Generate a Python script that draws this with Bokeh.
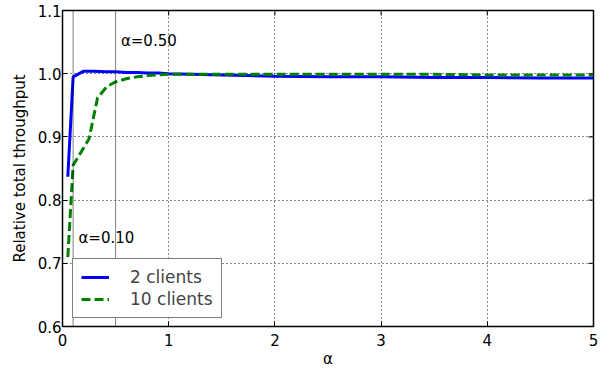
import math
from bokeh.plotting import figure
from bokeh.models import Legend, LegendItem, Span, FixedTicker, Range1d, ColumnDataSource
from bokeh.core.properties import value
from bokeh.embed import file_html
from bokeh.resources import INLINE

# ---- data ----
x_2 = [0.05, 0.1, 0.2, 0.3, 0.4, 0.5, 0.6, 0.7, 0.8, 0.9, 1.0, 1.5, 2.0, 2.5, 3.0, 3.5, 4.0, 4.5, 5.0]
y_2 = [0.837, 0.995, 1.004, 1.004, 1.003, 1.003, 1.002, 1.002, 1.001, 1.001, 1.000, 0.998, 0.996, 0.995, 0.995, 0.994, 0.994, 0.993, 0.993]
x_10 = [0.05, 0.1, 0.25, 0.33, 0.42, 0.5, 0.6, 0.7, 0.8, 0.9, 1.0, 1.5, 2.0, 2.5, 3.0, 3.5, 4.0, 4.5, 5.0]
y_10 = [0.71, 0.855, 0.897, 0.962, 0.980, 0.987, 0.992, 0.995, 0.997, 0.998, 0.999, 0.999, 0.999, 0.999, 0.999, 0.999, 0.998, 0.998, 0.998]
series_names = ["2 clients", "10 clients"]
markers = [0.1, 0.5]
ann_x = [0.55, 0.15]
ann_y = [1.052, 0.74]
ann_text = ["α=0.50", "α=0.10"]
x_ticks = [0, 1, 2, 3, 4, 5]
x_tick_labels = ["0", "1", "2", "3", "4", "5"]
y_ticks = [0.6, 0.7, 0.8, 0.9, 1.0, 1.1]
y_tick_labels = ["0.6", "0.7", "0.8", "0.9", "1.0", "1.1"]
x_lo, x_hi = 0, 5
y_lo, y_hi = 0.6, 1.1

FONT = "DejaVu Sans"

p = figure(frame_width=531, frame_height=316, output_backend="svg", toolbar_location=None,
           x_range=Range1d(x_lo, x_hi), y_range=Range1d(y_lo, y_hi),
           min_border_left=62, min_border_right=6, min_border_top=10, min_border_bottom=0)
p.outline_line_color = "black"
p.outline_line_width = 1.5
p.background_fill_color = "white"
p.border_fill_color = "white"

for ax, ticks, labels in ((p.xaxis[0], x_ticks, x_tick_labels), (p.yaxis[0], y_ticks, y_tick_labels)):
    ax.ticker = FixedTicker(ticks=ticks)
    ax.major_label_overrides = {t: l for t, l in zip(ticks, labels)}
    ax.major_tick_in = 5
    ax.major_tick_out = 0
    ax.minor_tick_line_color = None
    ax.axis_line_color = "black"
    ax.major_tick_line_color = "black"
    ax.major_label_text_font = FONT
    ax.major_label_text_font_size = "15px"
    ax.major_label_text_color = "black"
    ax.axis_label_text_font = FONT
    ax.axis_label_text_font_size = "15px"
    ax.axis_label_text_font_style = "normal"
    ax.axis_label_text_color = "black"

p.xaxis.axis_label = "α"
p.yaxis.axis_label = "Relative total throughput"
p.xaxis.major_label_standoff = 7
p.xaxis.axis_label_standoff = 1
p.yaxis.major_label_standoff = 1
p.yaxis.axis_label_standoff = 6

# inward ticks on the top and right borders
p.ray(x=x_ticks, y=[y_hi] * len(x_ticks), length=5, length_units="screen",
      angle=-math.pi / 2, line_color="black", line_width=1)
p.ray(x=[x_hi] * len(y_ticks), y=y_ticks, length=5, length_units="screen",
      angle=math.pi, line_color="black", line_width=1)

for g in (p.xgrid[0], p.ygrid[0]):
    g.grid_line_color = "black"
    g.grid_line_dash = "1 3"
    g.grid_line_width = 1
    g.grid_line_alpha = 0.9
p.xgrid[0].ticker = FixedTicker(ticks=x_ticks)
p.ygrid[0].ticker = FixedTicker(ticks=y_ticks)

for m in markers:
    p.add_layout(Span(location=m, dimension="height", line_color="black",
                      line_dash="1 1", line_width=1))

r2 = p.line(x_2, y_2, line_color="#0000ff", line_width=3)
r10 = p.line(x_10, y_10, line_color="#008000", line_width=3, line_dash="9 4")

src = ColumnDataSource(dict(x=ann_x, y=ann_y, t=ann_text))
p.text(x="x", y="y", text="t", source=src, text_font=value(FONT), text_font_size="15px",
       text_baseline="middle", text_align="left", text_color="black")

legend = Legend(items=[LegendItem(label=series_names[0], renderers=[r2]),
                       LegendItem(label=series_names[1], renderers=[r10])],
                location=(10, 8), orientation="vertical",
                label_text_font=FONT, label_text_font_size="17px",
                glyph_width=28, glyph_height=20, label_height=20, label_standoff=21,
                spacing=2, padding=8, margin=0,
                border_line_color="black", border_line_width=1.5,
                background_fill_color="white", background_fill_alpha=1.0)
p.add_layout(legend)

open("out.html", "w").write(file_html(p, INLINE))
